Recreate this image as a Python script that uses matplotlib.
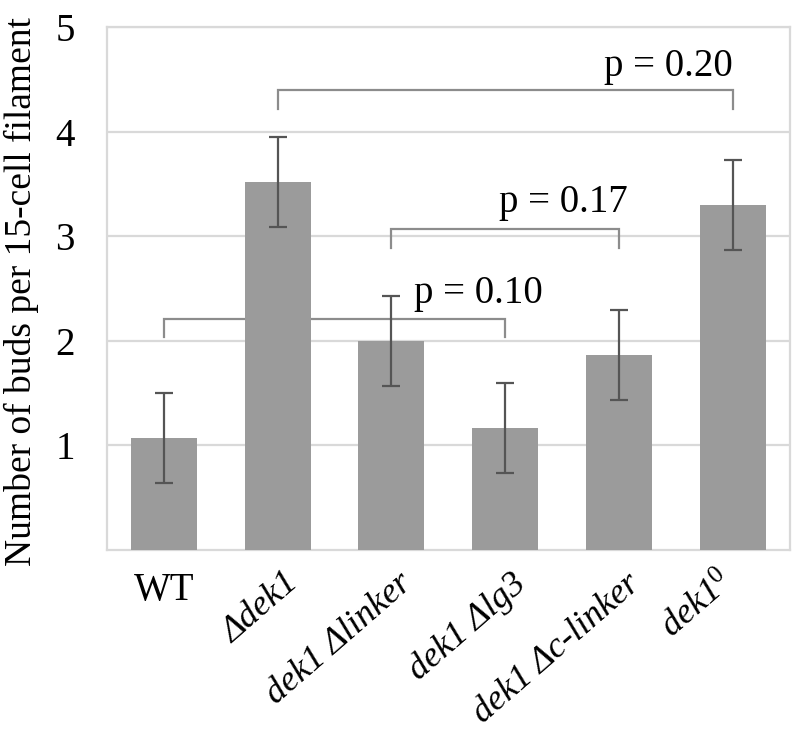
import matplotlib
matplotlib.use("Agg")
import matplotlib.pyplot as plt
import matplotlib.transforms as mtransforms
import numpy as np

plt.rcParams["font.family"] = ["Liberation Serif", "DejaVu Serif"]
plt.rcParams["mathtext.fontset"] = "custom"
plt.rcParams["mathtext.rm"] = "Liberation Serif"
plt.rcParams["mathtext.it"] = "Liberation Serif:italic"

# data
strains = ["WT", "Δdek1", "dek1 Δlinker", "dek1 Δlg3", "dek1 Δc-linker", "dek1$^{0}$"]
means = [1.07, 3.52, 2.00, 1.16, 1.86, 3.30]
errors = [0.43, 0.43, 0.43, 0.43, 0.43, 0.43]

# significance brackets: (left bar, right bar, height, label)
pairs = [(0, 3), (2, 4), (1, 5)]
bracket_y = [2.21, 3.07, 4.40]
p_labels = ["p = 0.10", "p = 0.17", "p = 0.20"]
label_x = [2.76, 3.51, 4.43]
label_y = [2.36, 3.23, 4.53]

BAR = "#9b9b9b"
GRID = "#d9d9d9"
FS = 28

fig = plt.figure(figsize=(7.97, 7.30), dpi=100)
ax = fig.add_axes([0.134, 0.247, 0.857, 0.716])

x = np.arange(len(strains))
ax.bar(x, means, width=0.58, color=BAR, zorder=3)
ax.errorbar(x, means, yerr=errors, fmt="none", ecolor="#555555", elinewidth=1.6,
            capsize=6.5, capthick=1.6, zorder=4)

tick = 0.18
for (i, j), h in zip(pairs, bracket_y):
    ax.plot([i, i, j, j], [h - tick, h, h, h - tick], color="#8c8c8c", lw=1.6,
            zorder=2, solid_joinstyle="miter")
for s, px, py in zip(p_labels, label_x, label_y):
    ax.text(px, py, s, ha="center", va="baseline", fontsize=FS, zorder=5)

ax.set_xlim(-0.5, 5.5)
ax.set_ylim(0, 5)
ax.set_yticks([1, 2, 3, 4, 5])
ax.yaxis.grid(True, color=GRID, lw=1.6, zorder=0)
ax.set_axisbelow(True)
for sp in ax.spines.values():
    sp.set_color(GRID)
    sp.set_linewidth(1.6)
ax.tick_params(axis="y", length=0, pad=23, labelsize=FS)
ax.tick_params(axis="x", length=0, pad=16, labelsize=FS)

ax.set_xticks(x)
ax.set_xticklabels(strains)
for k, lbl in enumerate(ax.get_xticklabels()):
    if k == 0:
        continue
    lbl.set_style("italic")
    lbl.set_fontsize(26)
    lbl.set_rotation(41)
    lbl.set_ha("right")
    lbl.set_va("top")
    lbl.set_rotation_mode("anchor")
    # nudge labels a little, the superscript one further left
    dx = -15 if k == len(strains) - 1 else 6
    lbl.set_transform(lbl.get_transform() + mtransforms.Affine2D().translate(dx, 5))

ax.set_ylabel("Number of buds per 15-cell filament", fontsize=27)
ax.yaxis.set_label_coords(39 / 797, 1 - 292 / 730, transform=fig.transFigure)

fig.savefig("out.png", dpi=100)
